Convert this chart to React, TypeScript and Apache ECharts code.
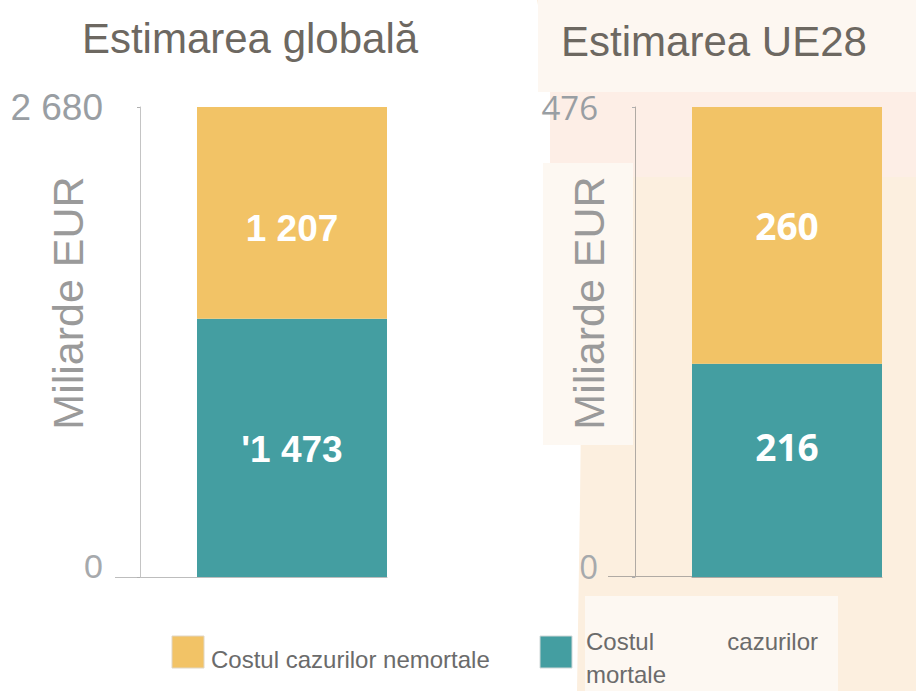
import React, { useEffect, useRef } from "react";
import * as echarts from "echarts";

const titles = ["Estimarea globală", "Estimarea UE28"];
const categories = ["Global", "UE28"];
const fatalCosts = [1473, 216];
const nonFatalCosts = [1207, 260];
const axisMax = [2680, 476];
const fatalLabels = ["'1 473", "216"];
const nonFatalLabels = ["1 207", "260"];
const tickLabels = [["0", "2 680"], ["0", "476"]];
const axisName = "Miliarde EUR";
const legendNames = ["Costul cazurilor nemortale", "Costul cazurilor mortale"];

const YELLOW = "#f2c366";
const TEAL = "#449ea1";

export default function App() {
  const ref = useRef<HTMLDivElement>(null);
  useEffect(() => {
    document.body.style.margin = "0";
    const chart = echarts.init(ref.current!, null, { renderer: "svg" });
    const gridLefts = [197, 692];
    const fonts = ["Liberation Sans", "Open Sans"];
    const labelSizes = [37, 37];
    const grids = gridLefts.map((l) => ({ left: l, top: 107, width: 190, height: 470 }));
    const xAxes = categories.map((c, i) => ({
      type: "category",
      gridIndex: i,
      data: [c],
      axisLine: { show: true, lineStyle: { color: i === 0 ? "#bdbdbd" : "#b0aaa4", width: 1 } },
      axisTick: { show: false },
      axisLabel: { show: false },
    }));
    const yAxes = axisMax.map((m, i) => ({
      type: "value",
      gridIndex: i,
      min: 0,
      max: m,
      interval: m,
      offset: 57,
      splitLine: { show: false },
      axisLine: { show: true, lineStyle: { color: i === 0 ? "#c4c4c4" : "#b0aaa4", width: 1 } },
      axisTick: { show: true, length: 3, lineStyle: { color: "#b0b0b0" } },
      axisLabel: {
        margin: 37,
        formatter: (v: number) => (v === 0 ? "{z|" + tickLabels[i][0] + "}" : "{t|" + tickLabels[i][1] + "}"),
        rich: {
          z: { fontFamily: fonts[i], fontSize: i === 0 ? 34 : 33, color: "#a6a9ac", padding: [0, 0, 22, 0] },
          t: { fontFamily: fonts[i], fontSize: i === 0 ? 37 : 33, color: "#999ea3" },
        },
      },
    }));
    const series: any[] = [];
    categories.forEach((_, i) => {
      series.push({
        type: "bar",
        name: legendNames[1],
        xAxisIndex: i,
        yAxisIndex: i,
        stack: "s" + i,
        barWidth: "100%",
        data: [fatalCosts[i]],
        itemStyle: { color: TEAL },
        label: {
          show: true,
          position: "inside",
          offset: i === 0 ? [0, 2] : [0, -24],
          formatter: () => fatalLabels[i],
          color: "#ffffff",
          fontWeight: "bold",
          fontFamily: fonts[i],
          fontSize: labelSizes[i],
        },
      });
      series.push({
        type: "bar",
        name: legendNames[0],
        xAxisIndex: i,
        yAxisIndex: i,
        stack: "s" + i,
        barWidth: "100%",
        data: [nonFatalCosts[i]],
        itemStyle: { color: YELLOW },
        label: {
          show: true,
          position: "inside",
          offset: i === 0 ? [0, 16] : [0, -10],
          formatter: () => nonFatalLabels[i],
          color: "#ffffff",
          fontWeight: "bold",
          fontFamily: fonts[i],
          fontSize: labelSizes[i],
        },
      });
    });

    const txt = "'Liberation Sans'";
    const graphic: any[] = [
      // right-hand background panels
      {
        type: "polygon",
        z: -10,
        silent: true,
        shape: {
          points: [
            [537, 0], [556, 100], [570, 200], [582, 330], [580, 500], [577, 691], [916, 691], [916, 0],
          ],
        },
        style: { fill: "#fcefdf" },
      },
      { type: "rect", z: -9, silent: true, shape: { x: 550, y: 92, width: 366, height: 85 }, style: { fill: "#fdeee6" } },
      { type: "rect", z: -9, silent: true, shape: { x: 538, y: 0, width: 378, height: 92 }, style: { fill: "#fdf7f1" } },
      { type: "rect", z: -9, silent: true, shape: { x: 543, y: 163, width: 90, height: 282 }, style: { fill: "#fdf8f2" } },
      { type: "rect", z: -9, silent: true, shape: { x: 585, y: 596, width: 253, height: 95 }, style: { fill: "#fdf8f2" } },
      // titles
      {
        type: "text", x: 250, y: 38,
        style: { text: titles[0], font: "42px " + txt, fill: "#6d6861", align: "center", verticalAlign: "middle" },
      },
      {
        type: "text", x: 714, y: 41,
        style: { text: titles[1], font: "42px " + txt, fill: "#6d6861", align: "center", verticalAlign: "middle" },
      },
      // axis names
      {
        type: "text", x: 68, y: 303, rotation: Math.PI / 2,
        style: { text: axisName, font: "43px " + txt, fill: "#9a9a9a", align: "center", verticalAlign: "middle" },
      },
      {
        type: "text", x: 589, y: 303, rotation: Math.PI / 2,
        style: { text: axisName, font: "43px " + txt, fill: "#9a9a9a", align: "center", verticalAlign: "middle" },
      },
      // baseline extensions
      { type: "line", shape: { x1: 115, y1: 577.5, x2: 197, y2: 577.5 }, style: { stroke: "#bdbdbd", lineWidth: 1 } },
      { type: "line", shape: { x1: 608, y1: 576.5, x2: 692, y2: 576.5 }, style: { stroke: "#b0aaa4", lineWidth: 1 } },
      // legend
      { type: "rect", shape: { x: 172, y: 636, width: 32, height: 32 }, style: { fill: YELLOW, stroke: "#e0d6c4", lineWidth: 1 } },
      {
        type: "text", x: 211, y: 659,
        style: { text: legendNames[0], font: "24px " + txt, fill: "#6b6b6b", align: "left", verticalAlign: "middle" },
      },
      { type: "rect", shape: { x: 540, y: 636, width: 32, height: 32 }, style: { fill: TEAL, stroke: "#d0d8d8", lineWidth: 1 } },
      {
        type: "text", x: 586, y: 641,
        style: { text: "Costul", font: "24px " + txt, fill: "#6b6b6b", align: "left", verticalAlign: "middle" },
      },
      {
        type: "text", x: 818, y: 641,
        style: { text: "cazurilor", font: "24px " + txt, fill: "#6b6b6b", align: "right", verticalAlign: "middle" },
      },
      {
        type: "text", x: 586, y: 674,
        style: { text: "mortale", font: "24px " + txt, fill: "#6b6b6b", align: "left", verticalAlign: "middle" },
      },
    ];

    chart.setOption({
      animation: false,
      backgroundColor: "#ffffff",
      grid: grids,
      xAxis: xAxes,
      yAxis: yAxes,
      series,
      graphic,
    });
    return () => chart.dispose();
  }, []);
  return <div ref={ref} style={{ width: 916, height: 691 }} />;
}
